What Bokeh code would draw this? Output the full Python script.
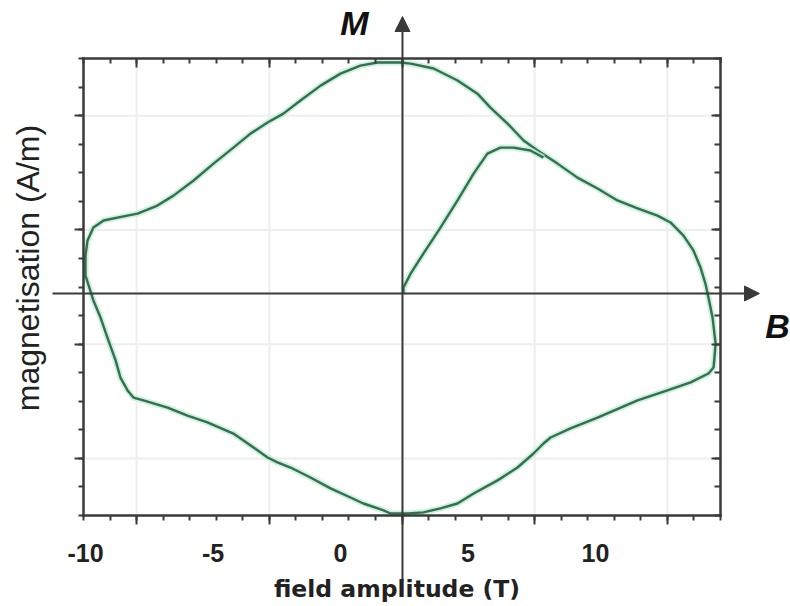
import numpy as np
from bokeh.plotting import figure
from bokeh.models import Range1d, LinearAxis, FixedTicker, Label, Arrow, NormalHead
from bokeh.embed import file_html
from bokeh.resources import INLINE

# ---------------- data ----------------
# hysteresis loop (field B, magnetisation M), traversed clockwise
loop_B = [7.73, 8.51, 9.29, 10.08, 10.86, 11.65, 12.43, 12.94, 13.45, 13.84,
          14.12, 14.31, 14.43, 14.59, 14.71, 14.63, 14.43, 13.73, 12.82, 11.65,
          10.08, 9.02, 8.24, 7.96, 7.57, 6.94, 6.16, 5.22, 4.59, 3.92,
          3.25, 2.63, 1.96, 1.69, 0.90, 0.39, -0.39, -1.18, -1.96, -2.47,
          -2.86, -3.41, -4.20, -5.22, -6.00, -6.78, -7.73, -8.12, -8.35, -8.63,
          -8.82, -9.14, -9.41, -9.69, -10.00, -10.00, -9.92, -9.69, -9.29, -8.75,
          -7.96, -7.18, -6.55, -5.76, -4.98, -4.20, -3.53, -2.86, -2.24, -1.57,
          -0.78, 0.00, 0.78, 1.45, 2.35, 2.75, 3.65, 4.59, 5.37, 5.88,
          6.55, 7.18, 7.73]
loop_M = [4.78, 4.32, 3.83, 3.45, 3.03, 2.75, 2.50, 2.26, 1.80, 1.28,
          0.68, 0.12, -0.37, -1.07, -1.98, -2.82, -3.03, -3.34, -3.62, -3.97,
          -4.57, -4.95, -5.27, -5.48, -5.83, -6.32, -6.77, -7.23, -7.58, -7.75,
          -7.89, -7.93, -7.93, -7.82, -7.58, -7.37, -7.05, -6.67, -6.32, -6.14,
          -5.97, -5.62, -5.13, -4.74, -4.50, -4.22, -3.97, -3.87, -3.62, -3.17,
          -2.57, -1.77, -1.07, -0.47, 0.40, 1.10, 1.63, 2.08, 2.33, 2.43,
          2.57, 2.85, 3.20, 3.73, 4.32, 4.88, 5.37, 5.76, 6.07, 6.53,
          7.05, 7.47, 7.75, 7.86, 7.86, 7.82, 7.65, 7.23, 6.77, 6.28,
          5.72, 5.13, 4.78]
# initial magnetisation curve from the origin
init_B = [2.47, 2.47, 2.75, 3.25, 3.92, 4.59, 5.22, 5.76, 6.27, 6.78, 7.45, 7.96]
init_M = [-0.23, -0.02, 0.47, 1.17, 2.08, 3.03, 3.97, 4.67, 4.88, 4.88, 4.78, 4.53]

x_tick_values = [-10, -5, 0, 5, 10]
x_tick_labels = ["-10", "-5", "0", "5", "10"]
x_axis_title = "field amplitude (T)"
y_axis_title = "magnetisation (A/m)"
arrow_x_name = "B"
arrow_y_name = "M"

# ---------------- layout constants ----------------
W, H = 790, 606
X_RANGE = (-13.333, 17.647)
Y_RANGE = (-11.186, 10.031)
BOX_X = (-10.078, 14.902)
BOX_Y = (-8.0, 8.0)
FRAME = "#3a3a3a"
TXT = "#222222"
CURVE = "#356e50"
HALO = "#bfeed3"

p = figure(width=W, height=H, x_range=Range1d(*X_RANGE), y_range=Range1d(*Y_RANGE),
           output_backend="svg", toolbar_location=None, min_border=0,
           x_axis_type=None, y_axis_type=None)
p.outline_line_color = None
p.background_fill_color = "white"
p.border_fill_color = "white"

minor_x = list(np.linspace(BOX_X[0], BOX_X[1], 25))
major_x = minor_x[2::5]
minor_y = list(np.linspace(BOX_Y[0], BOX_Y[1], 17))
major_y = minor_y[2::4]

# faint grid lines inside the box
p.segment(x0=major_x, y0=[BOX_Y[0]] * len(major_x), x1=major_x, y1=[BOX_Y[1]] * len(major_x),
          line_color="#eeeeee", line_width=2)
p.segment(x0=[BOX_X[0]] * len(major_y), y0=major_y, x1=[BOX_X[1]] * len(major_y), y1=major_y,
          line_color="#eeeeee", line_width=2)


def frame_side(side, loc, bounds, minor_pos, major_pos, tin, tout):
    a = LinearAxis(fixed_location=loc, bounds=bounds,
                   ticker=FixedTicker(ticks=[], minor_ticks=minor_pos))
    a.axis_line_color = FRAME
    a.axis_line_width = 2.5
    a.axis_line_cap = "square"
    a.major_tick_line_color = None
    a.minor_tick_line_color = FRAME
    a.minor_tick_line_width = 2
    a.minor_tick_in = tin[0]
    a.minor_tick_out = tout[0]
    p.add_layout(a, side)
    b = LinearAxis(fixed_location=loc, bounds=bounds,
                   ticker=FixedTicker(ticks=[], minor_ticks=major_pos))
    b.axis_line_color = None
    b.major_tick_line_color = None
    b.minor_tick_line_color = FRAME
    b.minor_tick_line_width = 2
    b.minor_tick_in = tin[1]
    b.minor_tick_out = tout[1]
    p.add_layout(b, side)


frame_side("below", BOX_Y[0], BOX_X, minor_x, major_x, (0, 0), (5, 9))
frame_side("above", BOX_Y[1], BOX_X, minor_x, major_x, (5, 9), (0, 0))
frame_side("left", BOX_X[0], BOX_Y, minor_y, major_y, (0, 0), (5, 9))
frame_side("right", BOX_X[1], BOX_Y, minor_y, major_y, (6, 9), (0, 0))

# tick labels
lab = LinearAxis(fixed_location=BOX_Y[0], ticker=FixedTicker(ticks=x_tick_values))
lab.major_label_overrides = dict(zip(x_tick_values, x_tick_labels))
lab.axis_line_color = None
lab.major_tick_line_color = None
lab.minor_tick_line_color = None
lab.major_label_standoff = 22
lab.major_label_text_font = "Liberation Sans"
lab.major_label_text_font_style = "bold"
lab.major_label_text_font_size = "25px"
lab.major_label_text_color = TXT
p.add_layout(lab, "below")

# curves
for xs, ys in ((loop_B, loop_M), (init_B, init_M)):
    p.line(xs, ys, line_color=HALO, line_width=6, line_alpha=0.8, line_join="round")
    p.line(xs, ys, line_color=CURVE, line_width=2.4, line_join="round")

# B and M arrows
p.add_layout(Arrow(x_start=2.431, y_start=-10.28, x_end=2.431, y_end=9.47,
                   line_color=FRAME, line_width=2,
                   end=NormalHead(size=15, fill_color=FRAME, line_color=FRAME)))
p.add_layout(Arrow(x_start=-11.294, y_start=-0.228, x_end=16.431, y_end=-0.228,
                   line_color=FRAME, line_width=2,
                   end=NormalHead(size=15, fill_color=FRAME, line_color=FRAME)))

# texts
p.add_layout(Label(x=0.549, y=9.26, text=arrow_y_name, text_font="Liberation Sans",
                   text_font_style="bold italic", text_font_size="34px", text_color="#111111",
                   text_align="center", text_baseline="middle"))
p.add_layout(Label(x=17.137, y=-1.38, text=arrow_x_name, text_font="Liberation Sans",
                   text_font_style="bold italic", text_font_size="34px", text_color="#111111",
                   text_align="center", text_baseline="middle"))
p.add_layout(Label(x=2.216, y=-10.56, text=x_axis_title, text_font="DejaVu Sans",
                   text_font_style="bold", text_font_size="23.5px", text_color=TXT,
                   text_align="center", text_baseline="middle"))
p.add_layout(Label(x=-12.255, y=0.665, text=y_axis_title, text_font="Liberation Sans",
                   text_font_size="32px", text_color=TXT, angle=90, angle_units="deg",
                   text_align="center", text_baseline="middle"))

open("out.html", "w").write(file_html(p, INLINE))
